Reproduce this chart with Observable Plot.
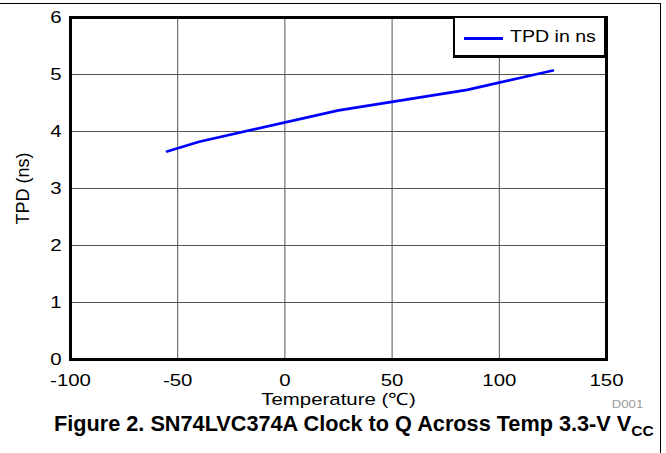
<!DOCTYPE html>
<html>
<head>
<meta charset="utf-8">
<script src="https://cdn.jsdelivr.net/npm/d3@7"></script>
<script src="https://cdn.jsdelivr.net/npm/@observablehq/plot@0.6"></script>
<style>
  body { margin: 0; background: #fff; }
  #wrap { position: relative; width: 666px; height: 453px; overflow: hidden; background: #fff;
          font-family: "Liberation Sans", Arial, sans-serif; }
  #chart svg { display: block; }
  #frame { position: absolute; left: -4px; top: 3px; width: 665px; height: 470px;
           border-top: 1.5px solid #000; border-right: 1.5px solid #000; box-sizing: border-box; }
  #legend { position: absolute; left: 453px; top: 16px; width: 154px; height: 42px; box-sizing: border-box;
            background: #fff; border-style: solid; border-color: #000; border-width: 2px 3px 3px 2px; }
  #legend .swatch { position: absolute; left: 9px; top: 19px; width: 39px; height: 2.5px; background: #0000ff; }
  #legend .lab { position: absolute; left: 55px; top: 9px; font-size: 17px; line-height: 20px; color: #000;
                 transform: scaleX(1.15); transform-origin: left center; white-space: nowrap; }
  #code { position: absolute; right: 23px; top: 398px; font-size: 11px; line-height: 13px; color: #9a9a9a;
          transform: scaleX(1.2); transform-origin: right center; }
  #title { position: absolute; left: 54px; top: 413px; font-weight: bold; font-size: 21.7px; line-height: 22px;
           color: #000; white-space: nowrap; }
  #title sub { font-size: 15.5px; vertical-align: -5px; line-height: 0; }
</style>
</head>
<body>
<div id="wrap">
  <div id="chart"></div>
  <div id="legend"><div class="swatch"></div><div class="lab"></div></div>
  <div id="code">D001</div>
  <div id="title">Figure 2. SN74LVC374A Clock to Q Across Temp 3.3-V V<sub>CC</sub></div>
  <div id="frame"></div>
</div>
<script>
// ---- data ----
const temperature = [-55, -40, 25, 85, 125];      // °C
const tpd = [3.65, 3.82, 4.37, 4.73, 5.07];        // ns
const xTicks = [-100, -50, 0, 50, 100, 150];
const yTicks = [0, 1, 2, 3, 4, 5, 6];
const seriesName = "TPD in ns";
const xLabel = "Temperature (℃)";
const yLabel = "TPD (ns)";

const rows = temperature.map((t, i) => ({temperature: t, tpd: tpd[i]}));
const plain = d => String(d);   // hyphen-minus, no decimals, as in the reference

const chart = Plot.plot({
  width: 666,
  height: 412,
  marginLeft: 70,
  marginRight: 60,
  marginTop: 17,
  marginBottom: 53,
  style: {fontFamily: "'Liberation Sans', Arial, sans-serif", fontSize: "17px", color: "#000", background: "#fff"},
  x: {domain: [-100, 150]},
  y: {domain: [0, 6]},
  marks: [
    Plot.gridX(xTicks, {stroke: "#555", strokeOpacity: 1, strokeWidth: 1}),
    Plot.gridY(yTicks, {stroke: "#555", strokeOpacity: 1, strokeWidth: 1}),
    Plot.line(rows, {x: "temperature", y: "tpd", stroke: "#0000ff", strokeWidth: 2.7}),
    Plot.frame({stroke: "#000", strokeWidth: 3}),
    Plot.axisX(xTicks, {tickSize: 0, tickPadding: 14, fill: "#000", tickFormat: plain, label: null}),
    Plot.axisY(yTicks, {tickSize: 0, tickPadding: 9, fill: "#000", tickFormat: plain, label: null}),
    Plot.text([xLabel], {frameAnchor: "bottom", lineAnchor: "middle", textAnchor: "middle", dy: 40, fontSize: 17, fill: "#000"}),
    Plot.text([yLabel], {frameAnchor: "left", rotate: -90, lineAnchor: "middle", textAnchor: "middle", dx: -47, fontSize: 18, fill: "#000"})
  ]
});

// the reference chart image is stretched horizontally: widen each (unrotated) text around its anchor
function stretchText(root, s) {
  root.querySelectorAll("text").forEach(t => {
    const c = t.transform.baseVal.consolidate();
    if (c && Math.abs(c.matrix.b) > 1e-6) return; // keep rotated label as is
    const x = parseFloat(t.getAttribute("x")) || 0;
    const px = c ? c.matrix.a * x + c.matrix.e : x;
    const g = document.createElementNS("http://www.w3.org/2000/svg", "g");
    g.setAttribute("transform", `translate(${px},0) scale(${s},1) translate(${-px},0)`);
    t.parentNode.insertBefore(g, t);
    g.appendChild(t);
  });
}
stretchText(chart, 1.2);

document.getElementById("chart").appendChild(chart);
document.querySelector("#legend .lab").textContent = seriesName;
</script>
</body>
</html>
